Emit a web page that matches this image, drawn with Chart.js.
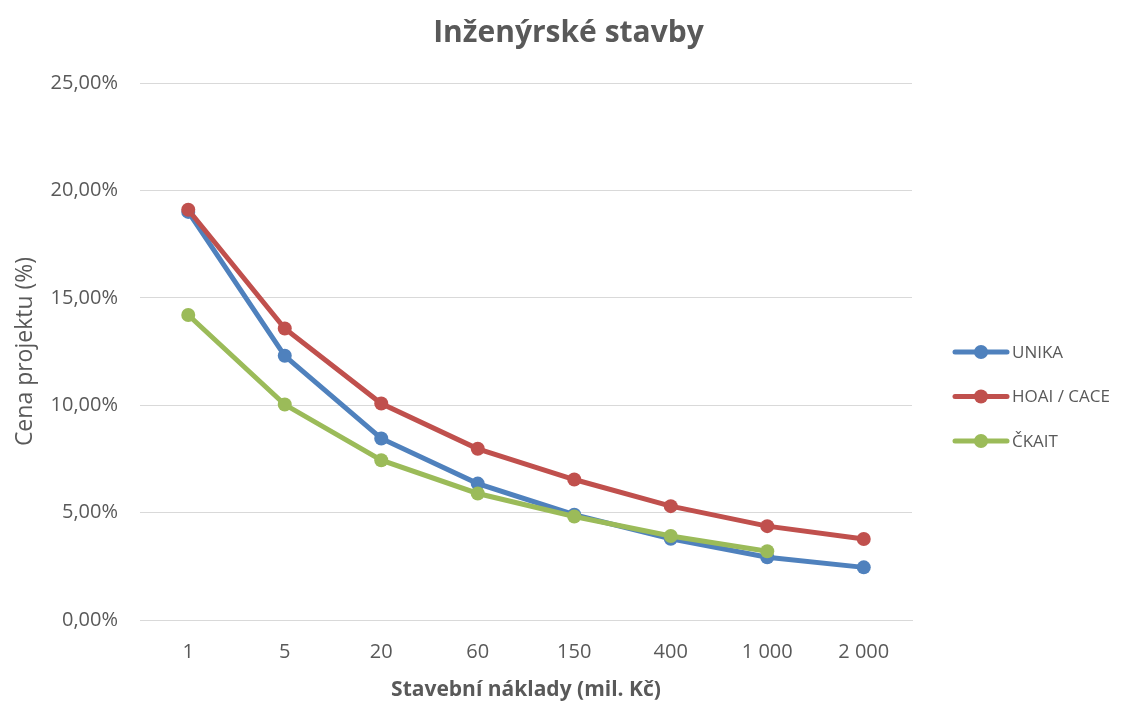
<!DOCTYPE html>
<html>
<head>
<meta charset="utf-8">
<script src="https://cdn.jsdelivr.net/npm/chart.js@4.4.1/dist/chart.umd.min.js"></script>
<style>
  html, body { margin: 0; padding: 0; background: #fff; }
  #wrap { width: 1137px; height: 705px; }
</style>
</head>
<body>
<div id="wrap"><canvas id="chart" width="1137" height="705"></canvas></div>
<script>
const categories = ["1", "5", "20", "60", "150", "400", "1 000", "2 000"];
const unika = [19.0, 12.3, 8.45, 6.35, 4.9, 3.78, 2.92, 2.45];
const hoai = [19.1, 13.57, 10.08, 7.97, 6.54, 5.3, 4.37, 3.77];
const ckait = [14.2, 10.03, 7.44, 5.89, 4.82, 3.91, 3.2, null];

const seriesNames = ["UNIKA", "HOAI / CACE", "ČKAIT"];
const seriesColors = ["#4f81bd", "#c0504d", "#9bbb59"];
const chartTitle = "Inženýrské stavby";

const fontFamily = "'Open Sans', 'Noto Sans', sans-serif";
const textColor = "#595959";

// title over the whole canvas and a legend whose marker is a line with a dot on it
const decorations = {
    id: 'decorations',
    afterDraw(chart) {
        const ctx = chart.ctx;
        ctx.save();
        ctx.fillStyle = textColor;
        ctx.font = "bold 30px " + fontFamily;
        ctx.textAlign = 'center';
        ctx.textBaseline = 'alphabetic';
        ctx.fillText(chartTitle, chart.width / 2, 42);

        const x = 952;
        let y = 352;
        ctx.textAlign = 'left';
        chart.data.datasets.forEach(ds => {
            ctx.strokeStyle = ds.borderColor;
            ctx.lineWidth = 5;
            ctx.lineCap = 'round';
            ctx.beginPath();
            ctx.moveTo(x + 3, y);
            ctx.lineTo(x + 55, y);
            ctx.stroke();
            ctx.fillStyle = ds.borderColor;
            ctx.beginPath();
            ctx.arc(x + 29, y, 7, 0, Math.PI * 2);
            ctx.fill();
            ctx.fillStyle = textColor;
            ctx.font = "17px " + fontFamily;
            ctx.textBaseline = 'middle';
            ctx.fillText(ds.label, x + 60, y + 1);
            y += 44.5;
        });
        ctx.restore();
    }
};

const ctx = document.getElementById("chart").getContext("2d");

new Chart(ctx, {
    type: 'line',
    data: {
        labels: categories,
        datasets: [
            { label: seriesNames[0], data: unika, order: 3 },
            { label: seriesNames[1], data: hoai, order: 2 },
            { label: seriesNames[2], data: ckait, order: 1 }
        ].map((ds, i) => Object.assign(ds, {
            borderColor: seriesColors[i],
            backgroundColor: seriesColors[i],
            borderWidth: 5,
            pointRadius: 7,
            pointHoverRadius: 7,
            pointBorderWidth: 0,
            tension: 0,
            fill: false
        }))
    },
    options: {
        responsive: false,
        animation: false,
        layout: { padding: { left: 12, right: 225, top: 83, bottom: 0 } },
        plugins: {
            legend: { display: false },
            tooltip: { enabled: false },
            title: { display: false }
        },
        scales: {
            x: {
                offset: true,
                grid: { display: false },
                border: { display: true, color: '#d9d9d9' },
                afterFit: s => { s.height = 85; },
                ticks: {
                    color: textColor,
                    font: { family: fontFamily, size: 20 },
                    padding: 12
                },
                title: {
                    display: true,
                    text: 'Stavební náklady (mil. Kč)',
                    color: textColor,
                    font: { family: fontFamily, size: 21, weight: 'bold' },
                    padding: { top: 0, bottom: 2 }
                }
            },
            y: {
                min: 0,
                max: 25,
                grid: { color: '#d9d9d9', lineWidth: 1, drawTicks: false },
                border: { display: false },
                afterFit: s => { s.width = 128; },
                ticks: {
                    stepSize: 5,
                    color: textColor,
                    font: { family: fontFamily, size: 20 },
                    padding: 22,
                    callback: v => v.toFixed(2).replace('.', ',') + '%'
                },
                title: {
                    display: true,
                    text: 'Cena projektu (%)',
                    color: textColor,
                    font: { family: fontFamily, size: 23 },
                    padding: { top: 0, bottom: 0 }
                }
            }
        }
    },
    plugins: [decorations]
});
</script>
</body>
</html>
